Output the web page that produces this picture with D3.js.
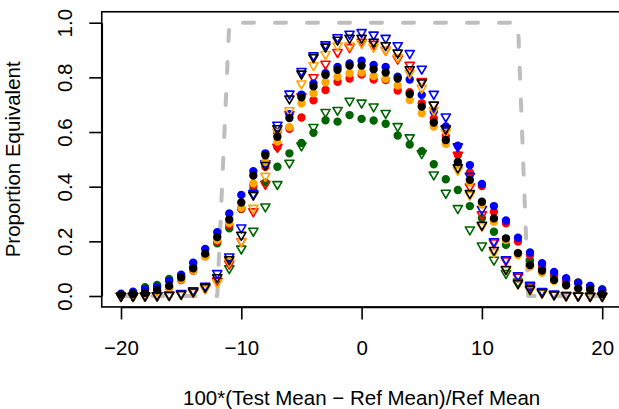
<!DOCTYPE html>
<html>
<head>
<meta charset="utf-8">
<script src="https://cdn.jsdelivr.net/npm/d3@7"></script>
<style>
  html, body { margin: 0; padding: 0; background: #ffffff; }
  svg { display: block; }
</style>
</head>
<body>
<script>
// Percent difference between test and reference means
const meanDiff = [-20,-19,-18,-17,-16,-15,-14,-13,-12,-11,-10,-9,-8,-7,-6,-5,-4,-3,-2,-1,0,
                  1,2,3,4,5,6,7,8,9,10,11,12,13,14,15,16,17,18,19,20];

// Proportion of trials declared equivalent, filled circles
const blueDot   = [0.008,0.016,0.025,0.033,0.055,0.078,0.122,0.172,0.233,0.302,0.370,0.457,0.522,0.598,0.665,0.737,0.778,0.815,0.838,0.851,0.861,
                   0.845,0.838,0.802,0.792,0.736,0.675,0.620,0.550,0.479,0.410,0.329,0.276,0.213,0.159,0.120,0.088,0.065,0.048,0.037,0.022];
const blackDot  = [0.005,0.008,0.012,0.022,0.037,0.068,0.101,0.155,0.216,0.280,0.342,0.441,0.515,0.583,0.651,0.727,0.767,0.809,0.828,0.843,0.843,
                   0.830,0.818,0.796,0.739,0.693,0.635,0.571,0.490,0.425,0.345,0.284,0.211,0.157,0.113,0.093,0.059,0.040,0.028,0.024,0.007];
const orangeDot = [0.004,0.007,0.010,0.018,0.032,0.060,0.093,0.145,0.205,0.267,0.323,0.412,0.491,0.565,0.618,0.705,0.742,0.782,0.802,0.815,0.818,
                   0.805,0.795,0.770,0.717,0.669,0.620,0.557,0.480,0.415,0.335,0.272,0.205,0.150,0.108,0.085,0.055,0.037,0.025,0.020,0.005];
const redDot    = [0.004,0.006,0.010,0.018,0.030,0.058,0.092,0.145,0.200,0.260,0.320,0.405,0.473,0.545,0.612,0.653,0.716,0.754,0.784,0.796,0.810,
                   0.792,0.790,0.752,0.746,0.705,0.650,0.585,0.516,0.452,0.402,0.308,0.266,0.199,0.150,0.110,0.080,0.058,0.049,0.035,0.018];
const greenDot  = [0.006,0.012,0.032,0.040,0.062,0.070,0.105,0.150,0.193,0.248,0.318,0.390,0.415,0.473,0.522,0.560,0.597,0.643,0.638,0.662,0.648,
                   0.642,0.630,0.587,0.554,0.530,0.482,0.427,0.388,0.329,0.285,0.235,0.187,0.155,0.130,0.100,0.075,0.055,0.050,0.037,0.025];

// Proportion of trials declared equivalent, open down-triangles
const blueTri   = [0,0,0.001,0.002,0.004,0.009,0.020,0.037,0.083,0.144,0.250,0.375,0.485,0.626,0.740,0.823,0.880,0.920,0.946,0.959,0.965,
                   0.956,0.944,0.917,0.888,0.831,0.739,0.656,0.547,0.439,0.318,0.200,0.134,0.075,0.040,0.018,0.008,0.003,0.001,0,0];
const blackTri  = [0,0,0.001,0.002,0.003,0.007,0.016,0.033,0.068,0.134,0.223,0.370,0.479,0.613,0.722,0.813,0.873,0.912,0.937,0.944,0.944,
                   0.930,0.917,0.890,0.829,0.781,0.699,0.613,0.470,0.376,0.260,0.168,0.098,0.046,0.025,0.013,0.005,0.002,0.001,0,0];
const orangeTri = [0,0,0.001,0.001,0.003,0.006,0.014,0.027,0.049,0.126,0.199,0.322,0.439,0.600,0.679,0.777,0.844,0.885,0.916,0.916,0.925,
                   0.911,0.900,0.874,0.815,0.761,0.680,0.599,0.461,0.370,0.255,0.160,0.095,0.045,0.022,0.010,0.004,0.002,0.001,0,0];
const redTri    = [0,0,0.001,0.002,0.003,0.007,0.014,0.028,0.055,0.118,0.200,0.309,0.410,0.545,0.665,0.730,0.800,0.849,0.892,0.910,0.930,
                   0.922,0.900,0.868,0.845,0.786,0.700,0.610,0.516,0.400,0.298,0.195,0.130,0.070,0.035,0.015,0.006,0.002,0.001,0,0];
const greenTri  = [0,0,0.001,0.002,0.004,0.010,0.020,0.030,0.055,0.101,0.173,0.238,0.327,0.409,0.487,0.550,0.618,0.673,0.680,0.714,0.707,
                   0.693,0.669,0.621,0.580,0.522,0.444,0.377,0.321,0.243,0.184,0.132,0.083,0.052,0.030,0.014,0.006,0.003,0.001,0,0];

// Ideal equivalence region outline (dashed grey)
const limitX = [-20, -12, -11, 13, 13.85, 20];
const limitY = [0, 0, 1, 1, 0, 0];

// Axis ticks
const xTicks = [-20, -10, 0, 10, 20];
const yTicks = [0, 0.2, 0.4, 0.6, 0.8, 1.0];

const xLabel = "100*(Test Mean \u2212 Ref Mean)/Ref Mean";
const yLabel = "Proportion Equivalent";

const W = 619, H = 409;
const FONT = "'Liberation Sans', Arial, Helvetica, sans-serif";
const FS = 20.5;
const LW = 1.6;

const svg = d3.select("body").append("svg")
  .attr("width", W).attr("height", H)
  .attr("viewBox", `0 0 ${W} ${H}`);

const x = d3.scaleLinear().domain([-20, 20]).range([121, 602.2]);
const y = d3.scaleLinear().domain([0, 1]).range([296, 22.7]);

// plot region extends 4% beyond the data range, as in base R graphics
const x0 = x(-21.6), x1 = x(21.6), yTop = y(1.04), yBot = y(-0.04);

// dashed equivalence outline, drawn beneath the points
const limitLine = d3.line().x(d => x(d[0])).y(d => y(d[1]));
svg.append("path")
  .attr("d", limitLine(limitX.map((v, i) => [v, limitY[i]])))
  .attr("fill", "none")
  .attr("stroke", "#bebebe")
  .attr("stroke-width", 4)
  .attr("stroke-linecap", "round")
  .attr("stroke-linejoin", "round")
  .attr("stroke-dasharray", "11 21")
  .attr("stroke-dashoffset", 0.5);

// marker geometry (R pch 19 / pch 6 proportions)
const base = 3.4;
const TRC0 = Math.sqrt(4 * Math.PI / (3 * Math.sqrt(3)));
const TRC1 = TRC0 * Math.sqrt(3) / 2;
const TRC2 = TRC0 / 2;

function downTriangle(cx, cy) {
  const r = TRC0 * base, yc = TRC2 * base, xc = TRC1 * base;
  return `M${cx},${cy + r}L${cx + xc},${cy - yc}L${cx - xc},${cy - yc}Z`;
}

const series = [
  { values: greenDot,  color: "#006400", shape: "dot" },
  { values: greenTri,  color: "#006400", shape: "tri" },
  { values: redDot,    color: "#ff0000", shape: "dot" },
  { values: redTri,    color: "#ff0000", shape: "tri" },
  { values: blueDot,   color: "#0000ff", shape: "dot" },
  { values: blueTri,   color: "#0000ff", shape: "tri" },
  { values: orangeDot, color: "#ffa500", shape: "dot" },
  { values: orangeTri, color: "#ffa500", shape: "tri" },
  { values: blackDot,  color: "#000000", shape: "dot" },
  { values: blackTri,  color: "#000000", shape: "tri" }
];

const pointsG = svg.append("g");
series.forEach(s => {
  const pts = meanDiff.map((d, i) => ({ d, v: s.values[i] }));
  const g = pointsG.append("g");
  if (s.shape === "dot") {
    g.selectAll("circle").data(pts).join("circle")
      .attr("cx", p => x(p.d))
      .attr("cy", p => y(p.v))
      .attr("r", base)
      .attr("fill", s.color)
      .attr("stroke", s.color)
      .attr("stroke-width", LW);
  } else {
    g.selectAll("path").data(pts).join("path")
      .attr("d", p => downTriangle(x(p.d), y(p.v)))
      .attr("fill", "none")
      .attr("stroke", s.color)
      .attr("stroke-width", LW)
      .attr("stroke-linejoin", "round");
  }
});

// plot box
svg.append("rect")
  .attr("x", x0).attr("y", yTop)
  .attr("width", x1 - x0).attr("height", yBot - yTop)
  .attr("fill", "none").attr("stroke", "#000").attr("stroke-width", LW);

// bottom axis
const xAxis = svg.append("g")
  .attr("transform", `translate(0,${yBot})`)
  .call(d3.axisBottom(x).tickValues(xTicks).tickSize(12.5).tickSizeOuter(0));
xAxis.select(".domain").attr("stroke", "#000").attr("stroke-width", LW);
xAxis.selectAll(".tick line").attr("stroke", "#000").attr("stroke-width", LW);
xAxis.selectAll(".tick text")
  .attr("y", 355 - yBot).attr("dy", null)
  .attr("fill", "#000")
  .style("font-family", FONT).style("font-size", FS + "px");

// left axis
const yAxis = svg.append("g")
  .attr("transform", `translate(${x0},0)`)
  .call(d3.axisLeft(y).tickValues(yTicks).tickSize(12.5).tickSizeOuter(0).tickFormat(d3.format(".1f")));
yAxis.select(".domain").attr("stroke", "#000").attr("stroke-width", LW);
yAxis.selectAll(".tick line").attr("stroke", "#000").attr("stroke-width", LW);
yAxis.selectAll(".tick text")
  .attr("x", null).attr("dy", null)
  .attr("text-anchor", "middle")
  .attr("transform", `translate(${71.7 - x0},0) rotate(-90)`)
  .attr("fill", "#000")
  .style("font-family", FONT).style("font-size", FS + "px");

// axis titles
svg.append("text")
  .attr("x", (x0 + x1) / 2).attr("y", 404.5)
  .attr("text-anchor", "middle")
  .style("font-family", FONT).style("font-size", FS + "px")
  .text(xLabel);

svg.append("text")
  .attr("transform", `translate(20,${(yTop + yBot) / 2}) rotate(-90)`)
  .attr("text-anchor", "middle")
  .style("font-family", FONT).style("font-size", FS + "px")
  .text(yLabel);
</script>
</body>
</html>
